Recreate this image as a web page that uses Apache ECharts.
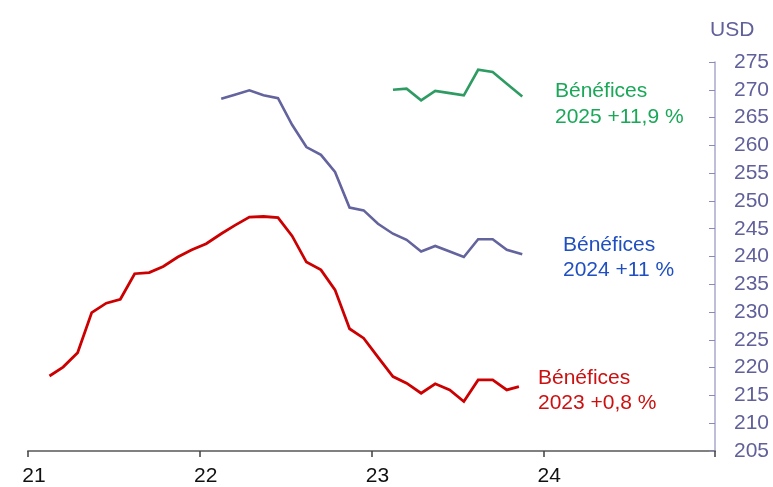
<!DOCTYPE html>
<html>
<head>
<meta charset="utf-8">
<script src="https://cdn.jsdelivr.net/npm/echarts@6/dist/echarts.min.js"></script>
<style>
  html, body { margin: 0; padding: 0; background: #ffffff; }
  #chart { width: 773px; height: 487px; }
</style>
</head>
<body>
<div id="chart"></div>
<script>
// Monthly consensus EPS estimates (USD) for three fiscal years
const FONT = '"Liberation Sans", Arial, sans-serif';

// mid-month observation dates, plus the latest reading of each series
function monthly(startYear, startMonth, count) {
  const out = [];
  for (let i = 0; i < count; i++) {
    const m = startMonth - 1 + i;
    const y = startYear + Math.floor(m / 12);
    const mm = (m % 12) + 1;
    out.push(y + '-' + String(mm).padStart(2, '0') + '-15');
  }
  return out;
}
const dates2023 = monthly(2021, 2, 33).concat(['2023-11-10']);
const dates2024 = monthly(2022, 2, 21).concat(['2023-11-17']);
const dates2025 = monthly(2023, 2, 9).concat(['2023-11-17']);

const eps2023 = [218.5, 220.1, 222.7, 229.9, 231.6, 232.3, 236.9, 237.1, 238.2, 239.9,
                 241.2, 242.3, 244.1, 245.6, 247.1, 247.2, 247.0, 243.7, 239.0, 237.6,
                 234.0, 227.0, 225.3, 221.9, 218.4, 217.2, 215.4, 217.1, 216.0, 213.9,
                 217.8, 217.8, 216.0, 216.6];
const eps2024 = [268.4, 269.1, 269.9, 269.0, 268.5, 263.7, 259.7, 258.3, 255.2, 248.8,
                 248.3, 245.9, 244.1, 243.0, 240.9, 241.9, 240.9, 239.9, 243.1, 243.1,
                 241.2, 240.4];
const eps2025 = [270.0, 270.2, 268.1, 269.8, 269.4, 269.0, 273.6, 273.2, 271.1, 268.8];

const seriesLabels = [
  ['Bénéfices', '2023 +0,8 %'],
  ['Bénéfices', '2024 +11 %'],
  ['Bénéfices', '2025 +11,9 %']
];
const yUnit = 'USD';

// decimal year of a YYYY-MM-DD string
function toYear(s) {
  const [y, m, d] = s.split('-').map(Number);
  const dim = new Date(y, m, 0).getDate();
  return y + (m - 1) / 12 + (d - 1) / dim / 12;
}
function pairs(dates, vals) {
  return dates.map((d, i) => [toYear(d), vals[i]]);
}

const chart = echarts.init(document.getElementById('chart'), null, { renderer: 'canvas' });

const lineStyle = (c, w) => ({ color: c, width: w, join: 'miter' });

chart.setOption({
  animation: false,
  backgroundColor: '#ffffff',
  grid: { left: 28, right: 58, top: 62, bottom: 36, containLabel: false },
  xAxis: {
    type: 'value',
    min: 2021, max: 2025, interval: 1,
    axisLine: { show: true, lineStyle: { color: '#808080', width: 2 } },
    axisTick: { show: true, inside: false, length: 6, lineStyle: { color: '#404040', width: 1.5 } },
    axisLabel: {
      color: '#111111', fontFamily: FONT, fontSize: 21, margin: 15,
      padding: [0, 0, 0, 12],
      formatter: v => (v >= 2025 ? '' : String(v - 2000))
    },
    splitLine: { show: false }
  },
  yAxis: {
    type: 'value',
    position: 'right',
    min: 205, max: 275, interval: 5,
    axisLine: { show: true, lineStyle: { color: '#a8a8cc', width: 1.5 } },
    axisTick: { show: true, inside: true, length: 6, lineStyle: { color: '#8a8ab8', width: 1 } },
    axisLabel: { color: '#60609a', fontFamily: FONT, fontSize: 21, margin: 19 },
    splitLine: { show: false }
  },
  series: [
    { type: 'line', data: pairs(dates2023, eps2023), showSymbol: false, lineStyle: lineStyle('#cc0000', 2.8), z: 3 },
    { type: 'line', data: pairs(dates2024, eps2024), showSymbol: false, lineStyle: lineStyle('#63639e', 2.6), z: 2 },
    { type: 'line', data: pairs(dates2025, eps2025), showSymbol: false, lineStyle: lineStyle('#2e9b63', 2.6), z: 2 }
  ],
  graphic: [
    { type: 'text', left: 710, top: 20, style: { text: yUnit, fill: '#60609a', font: '21px ' + FONT } },
    { type: 'text', left: 538, top: 366, style: { text: seriesLabels[0].join('\n'), fill: '#cc1010', font: '21px ' + FONT, lineHeight: 25 } },
    { type: 'text', left: 563, top: 233, style: { text: seriesLabels[1].join('\n'), fill: '#1f4fc0', font: '21px ' + FONT, lineHeight: 25 } },
    { type: 'text', left: 555, top: 78, style: { text: seriesLabels[2].join('\n'), fill: '#1aa858', font: '21px ' + FONT, lineHeight: 26 } }
  ]
});
</script>
</body>
</html>
